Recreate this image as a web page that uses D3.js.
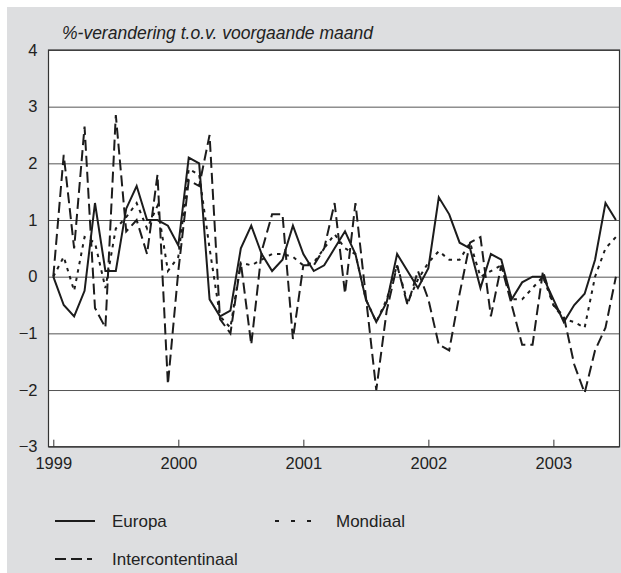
<!DOCTYPE html>
<html>
<head>
<meta charset="UTF-8">
<title>verandering t.o.v. voorgaande maand</title>
<style type="text/css">
	body { margin: 0; background: #fff; }
	text { font-family: "Liberation Sans", Arial, sans-serif; fill: #222; }
	.axis path { display: none; }
	.axis text { font-size: 16.5px; }
	.grid line { stroke: #555; stroke-width: 1; }
	.grid path { display: none; }
	.serie { fill: none; stroke: #1c1c1c; stroke-width: 2; stroke-linejoin: miter; }
</style>
<script type="text/javascript" src="https://cdn.jsdelivr.net/npm/d3@7/dist/d3.min.js"></script>
</head>
<body>
<div id="chart"></div>

<script type="text/javascript">

	// jan 1999 .. jul 2003, one value per month
	var yearLabels = ["1999", "2000", "2001", "2002", "2003"];
	var yTicks = [-3, -2, -1, 0, 1, 2, 3, 4];

	var europa = [
		0, -0.5, -0.7, -0.25, 1.3, 0.1, 0.1, 1.2, 1.6, 1.0, 1.0, 0.9,
		0.55, 2.1, 2.0, -0.4, -0.7, -0.6, 0.5, 0.9, 0.4, 0.1, 0.3, 0.9,
		0.4, 0.1, 0.2, 0.5, 0.8, 0.4, -0.4, -0.8, -0.45, 0.4, 0.1, -0.2,
		0.15, 1.4, 1.1, 0.6, 0.5, -0.2, 0.4, 0.3, -0.4, -0.1, 0.0, 0.0,
		-0.4, -0.8, -0.5, -0.3, 0.3, 1.3, 1.0
	];
	var mondiaal = [
		0, 0.35, -0.25, 0.7, 0.6, -0.2, 0.85, 1.05, 1.3, 0.85, 1.25, 0.1,
		0.35, 1.9, 1.8, 0.5, -0.7, -0.9, 0.25, 0.2, 0.3, 0.4, 0.4, 0.35,
		0.2, 0.25, 0.5, 0.75, 0.5, 0.4, -0.4, -0.8, -0.4, 0.2, -0.45, -0.05,
		0.25, 0.45, 0.3, 0.3, 0.6, 0.0, 0.1, 0.2, -0.4, -0.4, -0.2, 0.0,
		-0.5, -0.75, -0.8, -0.9, 0.0, 0.5, 0.7
	];
	var intercontinentaal = [
		0, 2.15, 0.5, 2.65, -0.55, -0.9, 2.85, 0.8, 1.0, 0.4, 1.8, -1.9,
		0.1, 1.7, 1.6, 2.5, -0.75, -1.0, 0.25, -1.2, 0.45, 1.1, 1.1, -1.1,
		0.2, 0.2, 0.5, 1.3, -0.3, 1.3, -0.35, -2.0, -0.6, 0.2, -0.5, 0.1,
		-0.4, -1.2, -1.3, -0.3, 0.6, 0.7, -0.7, 0.2, -0.5, -1.2, -1.2, 0.1,
		-0.5, -0.7, -1.55, -2.05, -1.3, -0.9, 0.0
	];

	var series = [
		{ name: "Europa", values: europa, dash: null },
		{ name: "Mondiaal", values: mondiaal, dash: "3.5,5" },
		{ name: "Intercontentinaal", values: intercontinentaal, dash: "11,5" }
	];

	var svg_w = 621, svg_h = 573;
	var plotLeft = 48.5, plotRight = 619.5, plotTop = 50, plotBottom = 446.7;

	var svg = d3.select("#chart")
		.append("svg")
			.attr("width", svg_w)
			.attr("height", svg_h);

	// grey panel
	svg.append("rect")
		.attr("x", 7).attr("y", 7)
		.attr("width", svg_w - 7).attr("height", svg_h - 7)
		.attr("fill", "#dddee0");

	svg.append("rect")
		.attr("x", plotLeft).attr("y", plotTop)
		.attr("width", plotRight - plotLeft).attr("height", plotBottom - plotTop)
		.attr("fill", "#fff");

	// scales
	var scaleX = d3.scaleLinear()
		.domain([0, europa.length - 1])
		.range([53.3, 615.9]);

	var scaleY = d3.scaleLinear()
		.domain([-3, 4])
		.range([plotBottom, plotTop]);

	// grid lines
	svg.append("g")
		.attr("class", "grid")
		.attr("transform", "translate(" + plotLeft + ",0)")
		.call(d3.axisLeft(scaleY).tickValues(yTicks).tickSize(-(plotRight - plotLeft)).tickFormat(""));

	// y labels
	svg.append("g")
		.attr("class", "y axis")
		.attr("transform", "translate(" + plotLeft + ",0)")
		.call(d3.axisLeft(scaleY).tickValues(yTicks).tickSize(0).tickPadding(11).tickFormat(d3.format("d")));

	// x axis, ticks pointing up
	var xAxis = svg.append("g")
		.attr("class", "x axis")
		.attr("transform", "translate(0," + plotBottom + ")")
		.call(d3.axisBottom(scaleX)
			.tickValues([0, 12, 24, 36, 48])
			.tickSizeInner(-7)
			.tickSizeOuter(0)
			.tickPadding(11)
			.tickFormat(function (d) { return yearLabels[d / 12]; }));
	xAxis.selectAll("line").attr("stroke", "#333");

	// lines
	var line = d3.line()
		.x(function (d, i) { return scaleX(i); })
		.y(function (d) { return scaleY(d); });

	svg.selectAll("path.serie")
		.data(series)
		.enter()
		.append("path")
			.attr("class", "serie")
			.attr("d", function (d) { return line(d.values); })
			.attr("stroke-dasharray", function (d) { return d.dash; });

	// frame
	svg.append("rect")
		.attr("x", plotLeft).attr("y", plotTop)
		.attr("width", plotRight - plotLeft).attr("height", plotBottom - plotTop)
		.attr("fill", "none")
		.attr("stroke", "#333")
		.attr("stroke-width", 1.2);

	// title
	svg.append("text")
		.attr("x", 62)
		.attr("y", 39)
		.attr("font-size", "17.5px")
		.attr("font-style", "italic")
		.attr("fill", "#333")
		.text("%-verandering t.o.v. voorgaande maand");

	// legend
	var legendPos = [
		{ x: 55, y: 521 },
		{ x: 275, y: 521 },
		{ x: 55, y: 559 }
	];

	var legend = svg.selectAll("g.legend")
		.data(series)
		.enter()
		.append("g")
			.attr("class", "legend")
			.attr("transform", function (d, i) { return "translate(" + legendPos[i].x + "," + legendPos[i].y + ")"; });

	legend.append("line")
		.attr("x1", 0).attr("x2", function (d, i) { return i == 0 ? 40 : 37; })
		.attr("y1", 0).attr("y2", 0)
		.attr("stroke", "#1c1c1c")
		.attr("stroke-width", 2)
		.attr("stroke-dasharray", function (d, i) { return i == 1 ? "4,12" : d.dash; });

	legend.append("text")
		.attr("x", function (d, i) { return i == 1 ? 61 : 57; })
		.attr("y", 6)
		.attr("font-size", "17px")
		.text(function (d) { return d.name; });

</script>
</body>
</html>
